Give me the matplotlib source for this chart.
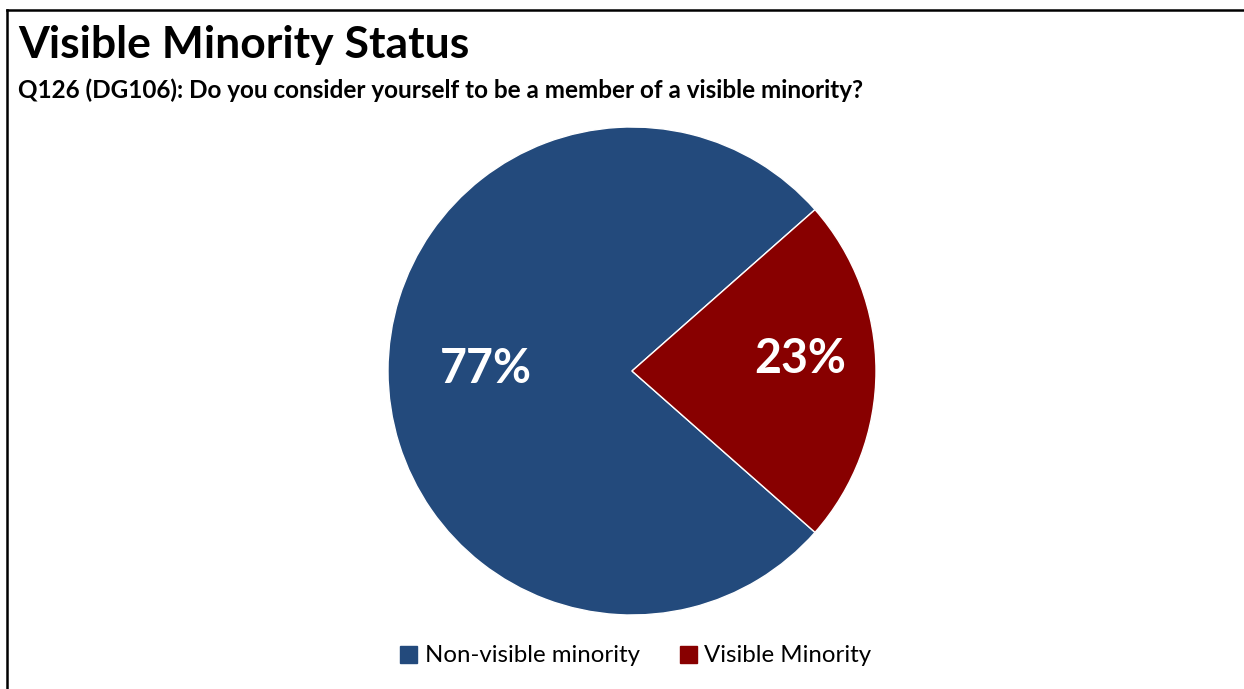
import matplotlib
matplotlib.use("Agg")
import matplotlib.pyplot as plt
import numpy as np
from matplotlib.lines import Line2D
from matplotlib.patches import Patch

labels = ["Non-visible minority", "Visible Minority"]
values = [77, 23]
colors = ["#234A7C", "#880000"]
pct_text = ["77%", "23%"]

plt.rcParams['font.family'] = ['Lato', 'DejaVu Sans']

fig = plt.figure(figsize=(12.44, 6.89), dpi=100)

# frame lines (top and left)
fig.add_artist(Line2D([7/1244, 1], [1 - 10/689, 1 - 10/689], color="black", lw=1.8, transform=fig.transFigure))
fig.add_artist(Line2D([7/1244, 7/1244], [0, 1 - 10/689], color="black", lw=1.8, transform=fig.transFigure))

fig.text(18/1244, 1 - 45/689, "Visible Minority Status", fontsize=32, fontweight="bold", va="center", ha="left")
fig.text(18/1244, 1 - 90/689, "Q126 (DG106): Do you consider yourself to be a member of a visible minority?",
         fontsize=17.5, fontweight="bold", va="center", ha="left")

ax = fig.add_axes([(632 - 244)/1244, (689 - 371 - 244)/689, 488/1244, 488/689])
start = 360 * values[1] / 100 / 2
wedges, _ = ax.pie(values, colors=colors, startangle=start, counterclock=True,
                   wedgeprops=dict(edgecolor="white", linewidth=1))
ax.set_xlim(-1, 1)
ax.set_ylim(-1, 1)
ax.set_aspect("equal")
ax.axis("off")

dists = [0.6, 0.69]
lifts = [0.01, 0.05]
for w, t, d, up in zip(wedges, pct_text, dists, lifts):
    ang = np.deg2rad((w.theta1 + w.theta2) / 2)
    ax.text(d * np.cos(ang), d * np.sin(ang) + up, t, color="white", fontsize=33.5,
            fontweight="bold", ha="center", va="center")

handles = [Patch(facecolor=c, edgecolor=c) for c in colors]
fig.legend(handles, labels, loc="center", bbox_to_anchor=(636/1244, 1 - 656/689), ncol=2,
           frameon=False, fontsize=17.3, handlelength=0.7, handleheight=0.7, handletextpad=0.3,
           columnspacing=1.7)

fig.savefig("out.png", dpi=100, facecolor="white")
